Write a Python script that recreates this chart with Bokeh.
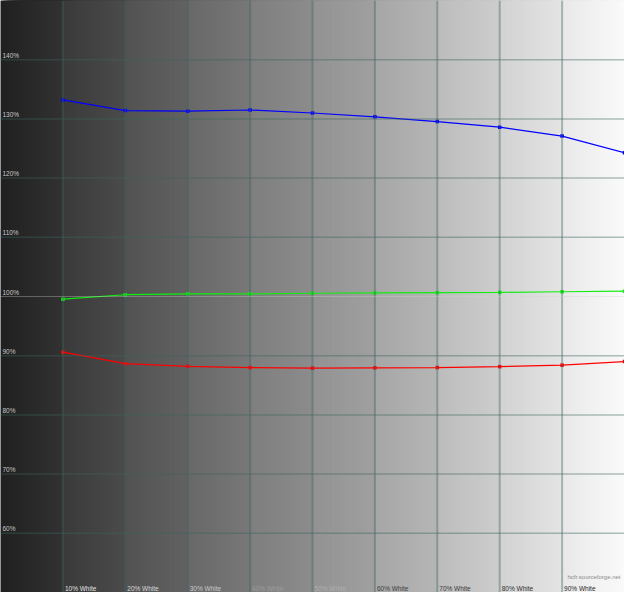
import numpy as np
from bokeh.plotting import figure
from bokeh.models import Span
from bokeh.core.properties import value
from bokeh.embed import file_html
from bokeh.resources import INLINE

# ---- data ----
levels = [10, 20, 30, 40, 50, 60, 70, 80, 90, 100]
level_labels = ["10% White", "20% White", "30% White", "40% White", "50% White",
                "60% White", "70% White", "80% White", "90% White"]
blue = [133.2, 131.4, 131.3, 131.5, 131.0, 130.35, 129.55, 128.6, 127.1, 124.3]
green = [99.55, 100.3, 100.45, 100.45, 100.55, 100.6, 100.65, 100.7, 100.8, 100.9]
red = [90.6, 88.65, 88.2, 88.0, 87.9, 87.95, 88.0, 88.15, 88.4, 89.0]
y_ticks = [60, 70, 80, 90, 100, 110, 120, 130, 140]
y_tick_labels = ["60%", "70%", "80%", "90%", "100%", "110%", "120%", "130%", "140%"]

W, H = 624, 592
p = figure(width=W, height=H, x_range=(0, 100), y_range=(50, 150),
           output_backend="svg", toolbar_location=None,
           x_axis_location=None, y_axis_location=None, min_border=0)
p.outline_line_color = None
p.background_fill_color = "#808080"
p.border_fill_color = "#808080"
p.xgrid.visible = False
p.ygrid.visible = False

# background gradient: each 10% band has its own ramp; stacked quads (no seams)
band_start = [32, 58, 82, 104, 126, 146, 166, 188, 210, 232]
band_end = [50, 75, 98, 120, 140, 160, 182, 205, 228, 250]
steps = 32
lefts, cols = [], []
for b in range(10):
    for s in range(steps):
        x0 = b * 10 + s * 10 / steps
        g = int(round(band_start[b] + (band_end[b] - band_start[b]) * (s + 0.5) / steps))
        lefts.append(x0)
        cols.append("#%02x%02x%02x" % (g, g, g))
p.quad(left=lefts, right=100, bottom=50, top=150, fill_color=cols, line_color=None)

# grid lines
for t in [10, 20, 30, 40, 50, 60, 70, 80, 90]:
    p.add_layout(Span(location=t, dimension="height", line_color="#3c645f",
                      line_alpha=0.4, line_width=2))
for t in [60, 70, 80, 90, 110, 120, 130, 140]:
    p.add_layout(Span(location=t, dimension="width", line_color="#3c645f",
                      line_alpha=0.4, line_width=1.5))
p.add_layout(Span(location=100, dimension="width", line_color="#d0d0d0",
                  line_alpha=0.7, line_width=1, line_dash="1 1"))

# y labels
p.text(x=0, y=y_ticks, text=y_tick_labels, x_offset=2, y_offset=-1,
       text_font=value("Liberation Sans"), text_font_size="6.5px",
       text_color="#c8c8c8", text_baseline="bottom", text_align="left")

# x labels
xl_colors = ["#e0e0e0", "#d8d8d8", "#c8c8c8", "#9c9c9c", "#b0b0b0",
             "#404040", "#383838", "#303030", "#282828"]
p.text(x=levels[:9], y=50, text=level_labels, x_offset=2, y_offset=-1,
       text_font=value("Liberation Sans"), text_font_size="6.5px",
       text_color=xl_colors, text_baseline="bottom", text_align="left")

p.text(x=[100], y=[50], text=["hcfr.sourceforge.net"], x_offset=-4, y_offset=-13,
       text_font=value("Liberation Sans"), text_font_size="6px",
       text_color="#8a8a8a", text_baseline="bottom", text_align="right")

# series
for vals, col in [(blue, "#0000ff"), (green, "#11ee11"), (red, "#ff0000")]:
    p.line(levels, vals, line_color=col, line_width=1.2)
    p.scatter(levels, vals, marker="square", size=3.5, fill_color=col, line_color=None)

open("out.html", "w").write(file_html(p, INLINE))
